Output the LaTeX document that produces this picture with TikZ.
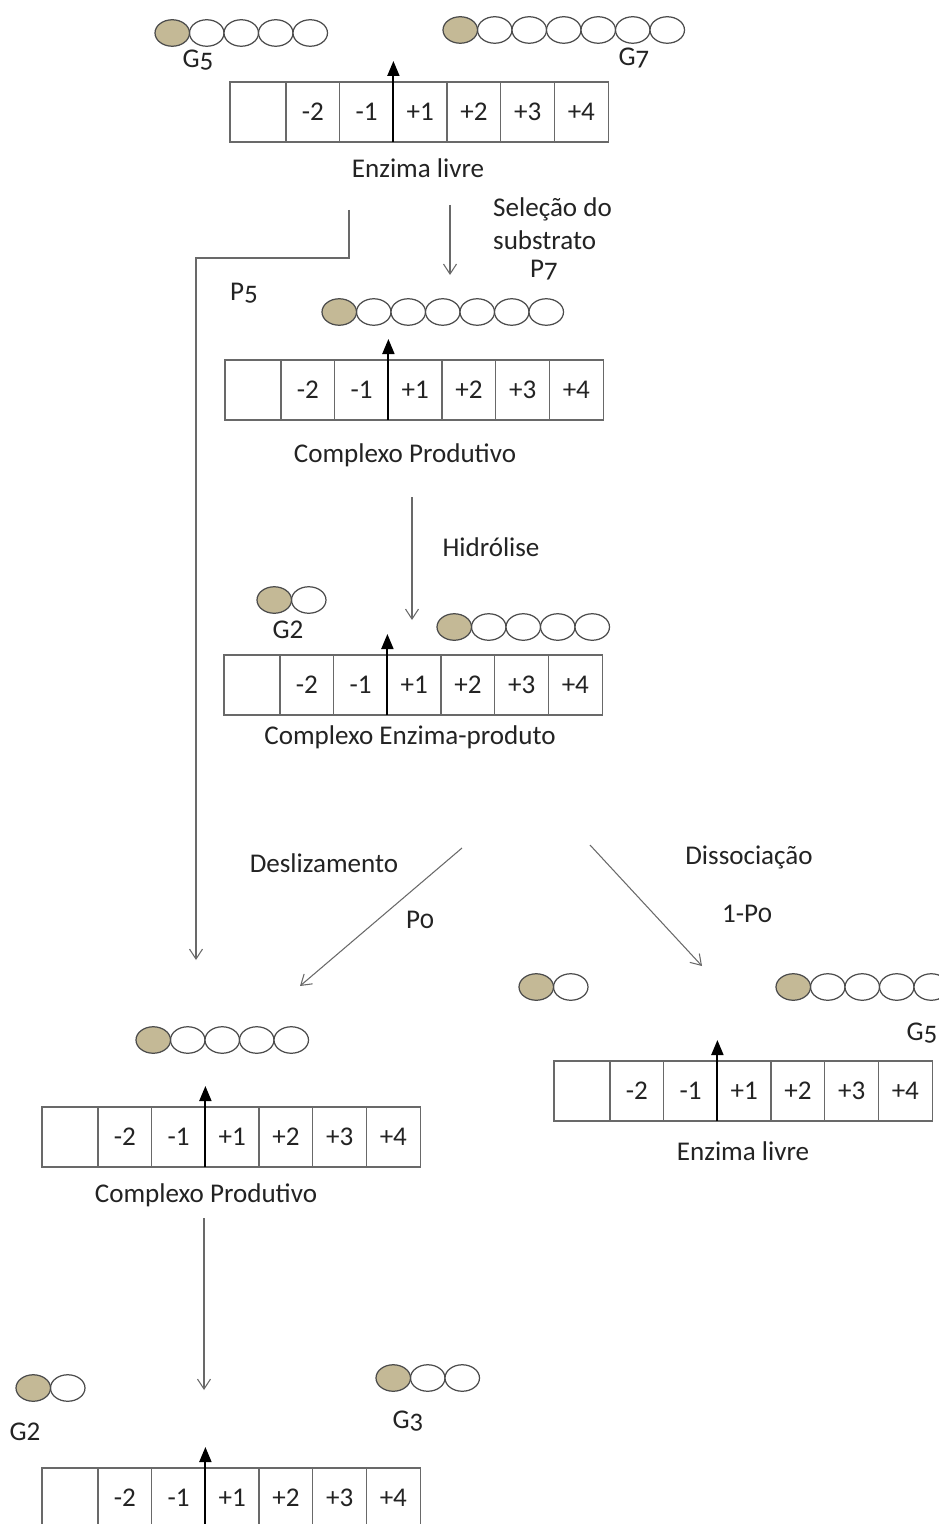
\documentclass[tikz,border=0pt]{standalone}
\usepackage{fontspec}
\setmainfont{Carlito}
\newfontfamily\oldnum{Carlito}[Numbers=OldStyle]
\usetikzlibrary{shapes.geometric,arrows.meta,positioning}

\definecolor{beadtan}{RGB}{196,185,150}
\definecolor{linegray}{RGB}{105,105,105}
\definecolor{textgray}{RGB}{35,35,35}

% enzyme with its subsites: name, left x, top y
\newcommand{\enzyme}[3]{%
  \node[firstcell] (#1c0) at (#2,#3) {};
  \foreach \lbl [count=\i] in {-2,-1,+1,+2,+3,+4}
    \node[cell] (#1c\i) at ({#2+56+(\i-1)*53.7},#3) {\lbl};
  \coordinate (#1tip) at ([yshift=0.42cm]#1c3.north west);
  \draw[pointer] (#1c3.south west) -- (#1tip);
}
% glucose chain: name, left x, centre y, units
\newcommand{\glucan}[4]{%
  \foreach \k in {2,...,#4}
    \node[bead] (#1u\k) at ({#2+17.25+(\k-1)*34.5},#3) {};
  \node[bead, fill=beadtan] (#1u1) at ({#2+17.25},#3) {};
}

\begin{document}
\begin{tikzpicture}[x=0.02cm, y=-0.02cm, font=\fontsize{15.4}{18.7}\selectfont, text=textgray]
    % Define styles
    \tikzstyle{cell} = [rectangle, draw=linegray, line width=0.7pt, minimum width=1.074cm, minimum height=1.2cm, inner sep=0pt, outer sep=0pt, anchor=north west]
    \tikzstyle{firstcell} = [cell, minimum width=1.12cm]
    \tikzstyle{bead} = [ellipse, draw=black!70, line width=0.7pt, fill=white, minimum width=0.69cm, minimum height=0.53cm, inner sep=0pt]
    \tikzstyle{pointer} = [draw=black, line width=1.1pt, -{Triangle[length=0.3cm, width=0.24cm]}]
    \tikzstyle{conn} = [draw=linegray, line width=0.6pt, -{Straight Barb[length=0.2cm, width=0.26cm]}]

    \useasboundingbox (0,0) rectangle (939,1524);
    \clip (0,0) rectangle (939,1524);
    \fill[white] (0,0) rectangle (939,1524);

    % Free enzyme
    \glucan{gfive}{155}{33}{5}
    \glucan{gseven}{443}{30}{7}
    \node (g5a) at (198,60) {\oldnum G5};
    \node (g7a) at (634,58) {\oldnum G7};
    \enzyme{free}{230}{82}
    \node (livre1) at (418,168) {Enzima livre};

    % Productive complex
    \node[align=left, anchor=west] (selecao) at (487,224) {Seleção do\\substrato};
    \node (p7) at (544,270) {\oldnum P7};
    \node (p5) at (244,293) {\oldnum P5};
    \glucan{bound}{322}{312}{7}
    \enzyme{prod}{225}{360}
    \node (prod1) at (405,455) {Complexo Produtivo};

    % Enzyme-product complex
    \node (hidrolise) at (491,547) {Hidrólise};
    \glucan{gtwo}{257}{600}{2}
    \node (g2a) at (288,630) {G2};
    \glucan{rest}{437}{627}{5}
    \enzyme{enzp}{224}{655}
    \node (enzprod) at (410,737) {Complexo Enzima-produto};

    % Branches
    \node (desliz) at (324,863) {Deslizamento};
    \node (p0) at (420,920) {\oldnum P0};
    \node (dissoc) at (749,857) {Dissociação};
    \node (p1m0) at (747,914) {1-P{\oldnum 0}};

    % Dissociation: free enzyme again
    \glucan{relA}{519}{987}{2}
    \glucan{relB}{776}{987}{5}
    \node (g5b) at (922,1033) {\oldnum G5};
    \enzyme{freeb}{554}{1061}
    \node (livre2) at (743,1151) {Enzima livre};

    % Sliding: productive complex again
    \glucan{slid}{136}{1040}{5}
    \enzyme{prodb}{42}{1107}
    \node (prod2) at (206,1195) {Complexo Produtivo};

    % Second hydrolysis
    \glucan{gtwob}{16}{1388}{2}
    \node (g2b) at (25,1432) {G2};
    \glucan{gthree}{376}{1378}{3}
    \node (g3) at (408,1421) {\oldnum G3};
    \enzyme{last}{42}{1468}

    % Arrows
    \coordinate (selA) at (450,205);
    \coordinate (selB) at (450,275);
    \coordinate (slipA) at (349,210);
    \coordinate (slipB) at (196,960);
    \coordinate (hydA) at (412,497);
    \coordinate (hydB) at (412,620);
    \coordinate (desA) at (462,848);
    \coordinate (desB) at (300,986);
    \coordinate (disA) at (590,845);
    \coordinate (disB) at (702,966);
    \coordinate (cutA) at (204,1218);
    \coordinate (cutB) at (204,1390);
    \draw [conn] (selA) -- (selB);
    \draw [conn] (slipA) -- ++(0,48) -| (slipB);
    \draw [conn] (hydA) -- (hydB);
    \draw [conn] (desA) -- (desB);
    \draw [conn] (disA) -- (disB);
    \draw [conn] (cutA) -- (cutB);
\end{tikzpicture}
\end{document}
